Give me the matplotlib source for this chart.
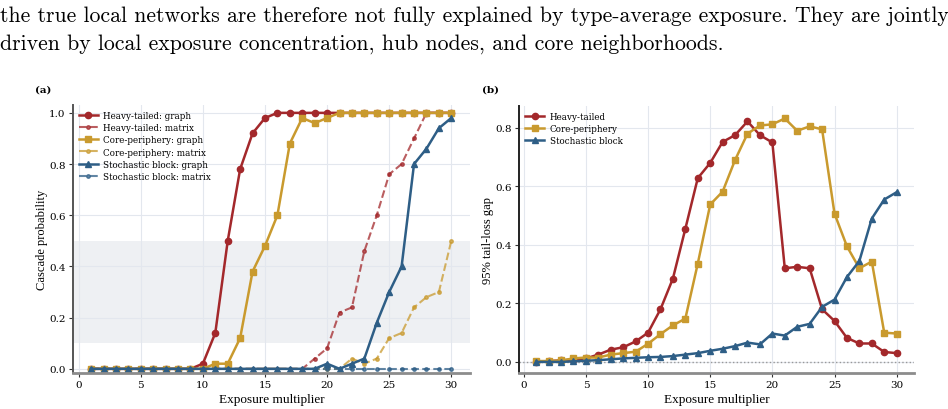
import matplotlib

matplotlib.use("Agg")

import matplotlib.pyplot as plt
import numpy as np

# ---- data ------------------------------------------------------------------
exposure = np.arange(1, 31)

ht_graph = [0, 0, 0, 0, 0, 0, 0, 0, 0, 0.02, 0.14, 0.50, 0.78, 0.92, 0.98,
            1, 1, 1, 1, 1, 1, 1, 1, 1, 1, 1, 1, 1, 1, 1]
ht_matrix = [0, 0, 0, 0, 0, 0, 0, 0, 0, 0, 0, 0, 0, 0, 0, 0, 0, 0, 0.04, 0.08,
             0.22, 0.24, 0.46, 0.60, 0.76, 0.80, 0.90, 1, 1, 1]
cp_graph = [0, 0, 0, 0, 0, 0, 0, 0, 0, 0, 0.02, 0.02, 0.12, 0.38, 0.48, 0.60,
            0.88, 0.98, 0.96, 0.98, 1, 1, 1, 1, 1, 1, 1, 1, 1, 1]
cp_matrix = [0, 0, 0, 0, 0, 0, 0, 0, 0, 0, 0, 0, 0, 0, 0, 0, 0, 0, 0, 0, 0,
             0.04, 0.02, 0.04, 0.12, 0.14, 0.24, 0.28, 0.30, 0.50]
sb_graph = [0, 0, 0, 0, 0, 0, 0, 0, 0, 0, 0, 0, 0, 0, 0, 0, 0, 0, 0, 0.02,
            0, 0.02, 0.04, 0.18, 0.30, 0.40, 0.80, 0.86, 0.94, 0.98]
sb_matrix = [0] * 30

ht_gap = [0.0, 0.003, 0.005, 0.008, 0.012, 0.025, 0.042, 0.05, 0.07, 0.10,
          0.18, 0.285, 0.455, 0.628, 0.68, 0.752, 0.775, 0.822, 0.775, 0.75,
          0.32, 0.325, 0.32, 0.18, 0.14, 0.082, 0.063, 0.063, 0.034, 0.03]
cp_gap = [0.003, 0.003, 0.005, 0.012, 0.015, 0.015, 0.025, 0.03, 0.035, 0.062,
          0.095, 0.125, 0.148, 0.336, 0.538, 0.582, 0.69, 0.78, 0.808, 0.812,
          0.832, 0.79, 0.805, 0.795, 0.507, 0.395, 0.32, 0.343, 0.10, 0.097]
sb_gap = [0.0, 0.0, 0.0, 0.002, 0.004, 0.006, 0.009, 0.012, 0.014, 0.016,
          0.017, 0.02, 0.025, 0.03, 0.038, 0.045, 0.054, 0.066, 0.06, 0.097,
          0.09, 0.12, 0.13, 0.188, 0.213, 0.29, 0.345, 0.49, 0.555, 0.58]

paragraph = ("the true local networks are therefore not fully explained by type-average exposure. They are jointly\n"
             "driven by local exposure concentration, hub nodes, and core neighborhoods.")

RED, GOLD, BLUE = "#A3282B", "#C99A2E", "#2E5E86"

plt.rcParams["font.family"] = "DejaVu Serif"
plt.rcParams["axes.unicode_minus"] = False


def style_axes(ax, ylabel):
    ax.grid(True, color="#e3e7ee", linewidth=0.8)
    ax.set_axisbelow(True)
    for side in ("top", "right"):
        ax.spines[side].set_visible(False)
    ax.spines["left"].set_color("#555555")
    ax.spines["left"].set_linewidth(1.4)
    ax.spines["bottom"].set_color("#8c8c8c")
    ax.spines["bottom"].set_linewidth(2.0)
    ax.tick_params(direction="out", length=3, width=0.8, color="#333333",
                   labelsize=7.5, pad=2)
    ax.set_xticks([0, 5, 10, 15, 20, 25, 30])
    ax.set_xlabel("Exposure multiplier", family="Liberation Serif", fontsize=9.5, labelpad=3)
    ax.set_ylabel(ylabel, family="Liberation Serif", fontsize=9, labelpad=1)


fig = plt.figure(figsize=(9.48, 4.10), dpi=100)
fig.text(0.0, 0.985, paragraph, family="cmr10", fontsize=15.7, va="top",
         ha="left", linespacing=1.55)

# ---- (a) cascade probability ----------------------------------------------
ax1 = fig.add_axes([0.0767, 0.088, 0.419, 0.653])
ax1.axhspan(0.1, 0.5, color="#eef0f3", zorder=0, linewidth=0)
ax1.plot(exposure, ht_graph, color=RED, marker="o", ms=4.5, lw=1.8, label="Heavy-tailed: graph")
ax1.plot(exposure, ht_matrix, color=RED, marker="o", ms=2.5, lw=1.5, ls="--", alpha=0.75,
         label="Heavy-tailed: matrix")
ax1.plot(exposure, cp_graph, color=GOLD, marker="s", ms=4.5, lw=1.8, label="Core-periphery: graph")
ax1.plot(exposure, cp_matrix, color=GOLD, marker="o", ms=2.5, lw=1.5, ls="--", alpha=0.75,
         label="Core-periphery: matrix")
ax1.plot(exposure, sb_graph, color=BLUE, marker="^", ms=5, lw=1.8, label="Stochastic block: graph")
ax1.plot(exposure, sb_matrix, color=BLUE, marker="o", ms=2.5, lw=1.5, ls="--", alpha=0.75,
         label="Stochastic block: matrix")
ax1.set_xlim(-0.48, 31.5)
ax1.set_ylim(-0.016, 1.03)
ax1.set_yticks([0.0, 0.2, 0.4, 0.6, 0.8, 1.0])
style_axes(ax1, "Cascade probability")
ax1.legend(loc="upper left", frameon=False, fontsize=6.3, handlelength=2.2,
           labelspacing=0.35, borderaxespad=0.3, handletextpad=0.6)

# ---- (b) tail-loss gap ----------------------------------------------------
ax2 = fig.add_axes([0.5475, 0.087, 0.4167, 0.653])
ax2.axhline(0, color="#999999", ls=":", lw=1.0, zorder=1)
ax2.plot(exposure, ht_gap, color=RED, marker="o", ms=4.5, lw=1.8, label="Heavy-tailed")
ax2.plot(exposure, cp_gap, color=GOLD, marker="s", ms=4.5, lw=1.8, label="Core-periphery")
ax2.plot(exposure, sb_gap, color=BLUE, marker="^", ms=5, lw=1.8, label="Stochastic block")
ax2.set_xlim(-0.38, 31.4)
ax2.set_ylim(-0.039, 0.876)
ax2.set_yticks([0.0, 0.2, 0.4, 0.6, 0.8])
style_axes(ax2, "95% tail-loss gap")
ax2.spines["left"].set_color("#222222")
ax2.legend(loc="upper left", frameon=False, fontsize=6.3, handlelength=2.2,
           labelspacing=0.35, borderaxespad=0.3, handletextpad=0.6)

fig.text(0.037, 0.78, "(a)", fontsize=7.5, fontweight="bold", va="center")
fig.text(0.508, 0.78, "(b)", fontsize=7.5, fontweight="bold", va="center")

fig.savefig("out.png", dpi=100)
